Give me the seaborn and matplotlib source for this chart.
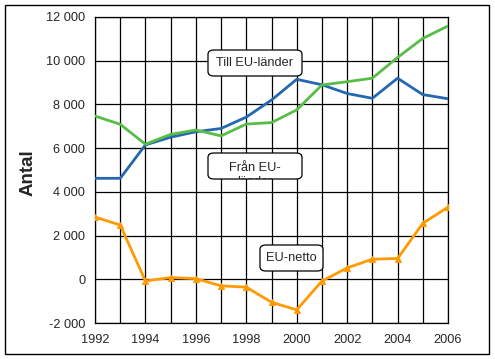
import matplotlib

matplotlib.use("Agg")

import matplotlib.pyplot as plt
import pandas as pd
import seaborn as sns
from matplotlib.patches import FancyBboxPatch, Rectangle
from matplotlib.ticker import FuncFormatter, MultipleLocator
from matplotlib.transforms import Bbox, TransformedBbox

years = list(range(1992, 2007))
fran_eu = [4620, 4620, 6150, 6500, 6750, 6900, 7420, 8200, 9150, 8900, 8500, 8280, 9200, 8450, 8260]
till_eu = [7470, 7090, 6180, 6630, 6830, 6560, 7100, 7170, 7750, 8890, 9040, 9200, 10150, 11020, 11590]
eu_netto = [2850, 2480, -80, 80, 30, -300, -360, -1050, -1400, -80, 520, 920, 950, 2560, 3300]

BLUE = "#2368b1"
GREEN = "#58bd47"
ORANGE = "#ff9a00"
W, H = 495, 359


def thousands(value, _pos):
    return f"{int(value):,}".replace(",", " ")


def label_box(fig, x0, y0, x1, y1, text, text_y=None):
    # box corners given in figure pixels (top-left origin)
    box = FancyBboxPatch(
        (x0 / W, 1 - y1 / H),
        (x1 - x0) / W,
        (y1 - y0) / H,
        boxstyle="round,pad=0,rounding_size=0.012",
        transform=fig.transFigure,
        facecolor="white",
        edgecolor="black",
        linewidth=0.9,
        zorder=5,
    )
    fig.add_artist(box)
    ty = (y0 + y1) / 2 if text_y is None else text_y
    txt = fig.text(
        (x0 + x1) / 2 / W,
        1 - ty / H,
        text,
        ha="center",
        va="center",
        fontsize=9.2,
        linespacing=1.25,
        zorder=6,
    )
    clip = TransformedBbox(Bbox.from_extents(x0 / W, 1 - y1 / H, x1 / W, 1 - y0 / H), fig.transFigure)
    txt.set_clip_box(clip)
    txt.set_clip_on(True)


def main() -> None:
    sns.set_style("white")
    plt.rcParams["font.family"] = ["Liberation Sans", "DejaVu Sans"]

    df = pd.DataFrame(
        {"year": years, "Från EU-länder": fran_eu, "Till EU-länder": till_eu, "EU-netto": eu_netto}
    )

    fig = plt.figure(figsize=(4.95, 3.59), dpi=100)
    ax = fig.add_axes([95 / W, 36 / H, 353 / W, 306 / H])

    sns.lineplot(data=df, x="year", y="Från EU-länder", color=BLUE, linewidth=2.0, ax=ax, zorder=3)
    sns.lineplot(data=df, x="year", y="Till EU-länder", color=GREEN, linewidth=2.0, ax=ax, zorder=3)
    sns.lineplot(
        data=df, x="year", y="EU-netto", color=ORANGE, linewidth=2.0,
        marker="^", markersize=5, markeredgecolor=ORANGE, ax=ax, zorder=3,
    )

    ax.set_xlim(1992, 2006)
    ax.set_ylim(-2000, 12000)
    ax.yaxis.set_major_locator(MultipleLocator(2000))
    ax.yaxis.set_major_formatter(FuncFormatter(thousands))
    ax.set_xticks(years, minor=True)
    ax.set_xticks(years[::2])
    ax.grid(True, which="both", axis="x", color="black", linewidth=0.9)
    ax.grid(True, which="major", axis="y", color="black", linewidth=0.9)
    ax.set_axisbelow(True)

    for spine in ax.spines.values():
        spine.set_visible(True)
        spine.set_color("black")
        spine.set_linewidth(0.9)

    ax.tick_params(axis="y", which="major", direction="out", length=5, width=0.9, labelsize=9.2, pad=2)
    ax.tick_params(axis="x", which="both", length=0, labelsize=9.2, pad=8)
    ax.set_xlabel("")
    ax.set_ylabel("")
    fig.text(28.5 / W, 1 - 173 / H, "Antal", rotation=90, ha="center", va="center",
             fontsize=13.5, fontweight="bold")

    label_box(fig, 208, 50, 302, 76, "Till EU-länder")
    label_box(fig, 208, 153, 302, 179, "Från EU-\nländer", text_y=175)
    label_box(fig, 260, 245, 323, 271, "EU-netto")

    fig.add_artist(
        Rectangle((5 / W, 5 / H), 484 / W, 349 / H, transform=fig.transFigure,
                  fill=False, edgecolor="black", linewidth=1.0)
    )

    fig.savefig("out.png", dpi=100)
    plt.close(fig)


if __name__ == "__main__":
    main()
